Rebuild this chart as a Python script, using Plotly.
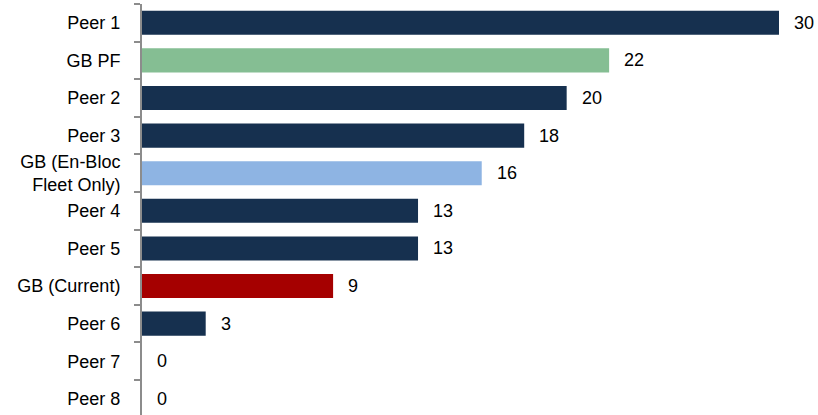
import plotly.graph_objects as go

categories = ["Peer 1", "GB PF", "Peer 2", "Peer 3", "GB (En-Bloc<br>Fleet Only)",
              "Peer 4", "Peer 5", "GB (Current)", "Peer 6", "Peer 7", "Peer 8"]
values = [30, 22, 20, 18, 16, 13, 13, 9, 3, 0, 0]
colors = ["#16304F", "#85BE93", "#8EB4E3", "#A50000"]
bar_colors = [colors[0], colors[1], colors[0], colors[0], colors[2],
              colors[0], colors[0], colors[3], colors[0], colors[0], colors[0]]

FONT = "Liberation Sans"

fig = go.Figure()
fig.add_trace(go.Bar(
    x=values, y=categories, orientation="h",
    marker=dict(color=bar_colors, line=dict(width=0)),
    width=0.64, hoverinfo="skip",
))

for c, v in zip(categories, values):
    fig.add_annotation(x=v, y=c, text=str(v), showarrow=False,
                       xanchor="left", yanchor="middle", xshift=13,
                       font=dict(family=FONT, size=18, color="#000000"))

fig.update_layout(
    width=818, height=415,
    margin=dict(l=142, r=39, t=4, b=0, autoexpand=False),
    paper_bgcolor="white", plot_bgcolor="white",
    showlegend=False,
    font=dict(family=FONT, size=18, color="#000000"),
    xaxis=dict(range=[0, 30], visible=False, showgrid=False, zeroline=False,
               automargin=False),
    yaxis=dict(type="category", range=[10.43, -0.5], showgrid=False, zeroline=False,
               automargin=False,
               showline=True, linecolor="#8C8C8C", linewidth=2,
               ticks="outside", ticklen=6, tickwidth=2, tickcolor="#8C8C8C",
               tickson="boundaries", ticklabelstandoff=16,
               tickfont=dict(family=FONT, size=18, color="#000000")),
)

fig.write_html("out.html", config={"displayModeBar": False, "staticPlot": True},
               post_script="document.body.style.margin='0';document.body.style.overflow='hidden';")
